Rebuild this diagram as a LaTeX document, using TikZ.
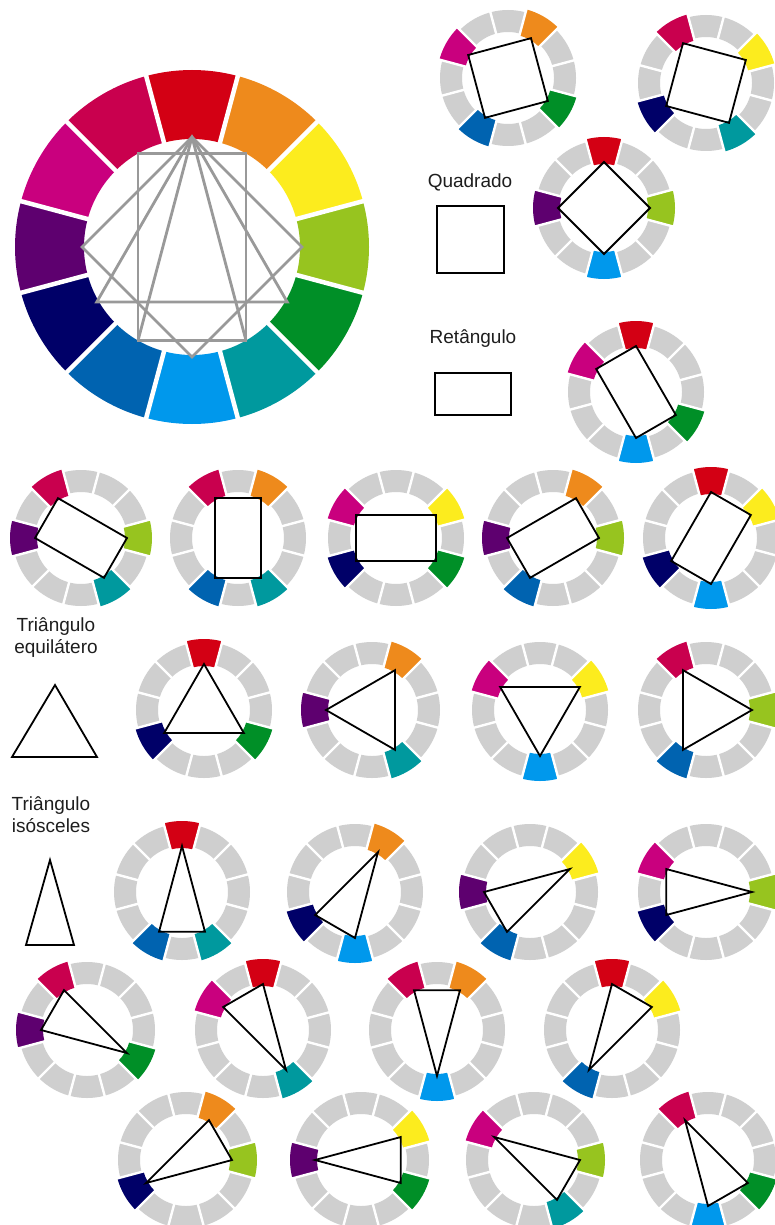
\documentclass[tikz,border=0pt]{standalone}
\usepackage{fontspec}
\setmainfont{Liberation Sans}
\definecolor{c0}{HTML}{D30014}
\definecolor{c1}{HTML}{EE8A1C}
\definecolor{c2}{HTML}{FCEC1E}
\definecolor{c3}{HTML}{97C41F}
\definecolor{c4}{HTML}{008F27}
\definecolor{c5}{HTML}{00999E}
\definecolor{c6}{HTML}{0098EC}
\definecolor{c7}{HTML}{0063B0}
\definecolor{c8}{HTML}{000068}
\definecolor{c9}{HTML}{5E006F}
\definecolor{c10}{HTML}{C9007E}
\definecolor{c11}{HTML}{C9004E}
\definecolor{wg}{HTML}{CFCFCF}
\definecolor{lg}{HTML}{999999}
\definecolor{txt}{HTML}{1E1E1E}
\newcommand{\sector}[5]{% color, from angle, to angle, inner, outer
  \fill[#1] (#2:#4) -- (#2:#5) arc[start angle=#2,end angle=#3,radius=#5] -- (#3:#4) arc[start angle=#3,end angle=#2,radius=#4] -- cycle;}
\newcommand{\wheelat}[5]{%
  \begin{scope}[shift={(#1pt,-#2pt)}]
    \foreach \i in {0,...,11}{%
      \pgfmathsetmacro\aa{90-30*\i-15}\pgfmathsetmacro\ab{90-30*\i+15}%
      \sector{wg}{\aa}{\ab}{46pt}{68pt}}
    \foreach \i in {#3}{%
      \pgfmathsetmacro\aa{90-30*\i-15}\pgfmathsetmacro\ab{90-30*\i+15}%
      \sector{c\i}{\aa}{\ab}{44pt}{71pt}}
    \foreach \i in {0,...,11}{%
      \pgfmathsetmacro\aa{90-30*\i-15}%
      \draw[white,line width=2.4pt] (\aa:42pt) -- (\aa:74pt);}
    \draw[shp] ({90-30*#4}:46pt) \foreach \k in {#5}{ -- ({90-30*\k}:46pt)} -- cycle;
  \end{scope}}
\begin{document}
\begin{tikzpicture}[x=1pt,y=1pt,
  shp/.style={black,line width=1.8pt,line join=miter},
  gshp/.style={lg,line width=2.8pt,line join=miter},
  lbl/.style={text=txt,font=\fontsize{19}{21.5}\selectfont,inner sep=0pt,align=center},
  box/.style={black,line width=1.8pt}]
\useasboundingbox[fill=white] (0,0) rectangle (774,-1225);
% big wheel
\begin{scope}[shift={(192pt,-247pt)}]
  \foreach \i in {0,...,11}{%
    \pgfmathsetmacro\aa{90-30*\i-15}\pgfmathsetmacro\ab{90-30*\i+15}%
    \sector{c\i}{\aa}{\ab}{108pt}{177pt}}
  \foreach \i in {0,...,11}{%
    \pgfmathsetmacro\aa{90-30*\i-15}%
    \draw[white,line width=4.5pt] (\aa:100pt) -- (\aa:185pt);}
  \draw[gshp] (90:110pt) -- (0:110pt) -- (270:110pt) -- (180:110pt) -- cycle;
  \draw[gshp] (90:110pt) -- (210:110pt) -- (330:110pt) -- cycle;
  \draw[gshp] (60:108pt) -- (120:108pt) -- (240:108pt) -- (300:108pt) -- cycle;
  \draw[gshp] (90:110pt) -- (240:108pt) (90:110pt) -- (300:108pt);
\end{scope}
% small wheels
\wheelat{508}{78}{1,4,7,10}{1}{4,7,10}
\wheelat{706}{83}{2,5,8,11}{2}{5,8,11}
\wheelat{604}{208}{0,3,6,9}{0}{3,6,9}
\wheelat{636}{392}{0,4,6,10}{0}{4,6,10}
\wheelat{81}{538}{3,5,9,11}{3}{5,9,11}
\wheelat{238}{538}{1,5,7,11}{1}{5,7,11}
\wheelat{396}{538}{2,4,8,10}{2}{4,8,10}
\wheelat{553}{538}{1,3,7,9}{1}{3,7,9}
\wheelat{711}{538}{0,2,6,8}{0}{2,6,8}
\wheelat{204}{710}{0,4,8}{0}{4,8}
\wheelat{372}{710}{1,5,9}{1}{5,9}
\wheelat{540}{710}{2,6,10}{2}{6,10}
\wheelat{706}{710}{3,7,11}{3}{7,11}
\wheelat{182}{892}{0,5,7}{0}{5,7}
\wheelat{355}{892}{1,6,8}{1}{6,8}
\wheelat{530}{892}{2,7,9}{2}{7,9}
\wheelat{706}{892}{3,8,10}{3}{8,10}
\wheelat{87}{1030}{4,9,11}{4}{9,11}
\wheelat{263}{1030}{0,5,10}{0}{5,10}
\wheelat{437}{1030}{1,6,11}{1}{6,11}
\wheelat{612}{1030}{0,2,7}{0}{2,7}
\wheelat{186}{1160}{1,3,8}{1}{3,8}
\wheelat{361}{1160}{2,4,9}{2}{4,9}
\wheelat{534}{1160}{3,5,10}{3}{5,10}
\wheelat{708}{1160}{4,6,11}{4}{6,11}
% labels and sample shapes
\node[lbl,anchor=base] (quad) at (470,-188) {Quadrado};
\draw[box] (437,-206) rectangle (504,-273);
\node[lbl,anchor=base] (ret) at (473,-343) {Retângulo};
\draw[box] (435,-373) rectangle (511,-415);
\node[lbl,anchor=base] (equi) at (56,-653) {Triângulo\\equilátero};
\draw[box,line join=miter] (55,-685) -- (97,-757) -- (12,-757) -- cycle;
\node[lbl,anchor=base] (iso) at (51,-832) {Triângulo\\isósceles};
\draw[box,line join=miter] (50,-860) -- (74,-945) -- (26,-945) -- cycle;
\end{tikzpicture}
\end{document}
